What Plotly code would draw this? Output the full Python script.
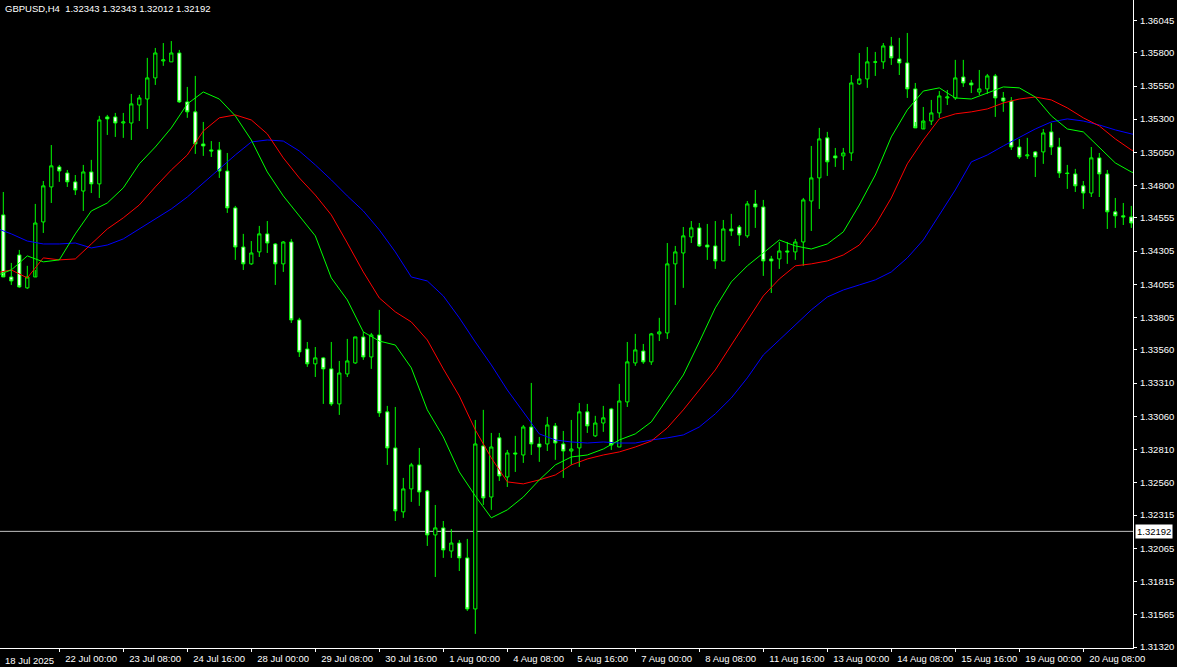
import plotly.graph_objects as go

# ---------------- data (GBPUSD H4) ----------------
bar_index = list(range(142))

opens = [1.34578, 1.34110, 1.34276, 1.34028, 1.34110, 1.34525, 1.34789, 1.34940, 1.34894, 1.34827,
         1.34758, 1.34902, 1.34812, 1.35317, 1.35317, 1.35271, 1.35271, 1.35407, 1.35452, 1.35611,
         1.35739, 1.35732, 1.35799, 1.35430, 1.35355, 1.35113, 1.35068, 1.35068, 1.34909, 1.34631,
         1.34336, 1.34209, 1.34299, 1.34435, 1.34359, 1.34209, 1.34374, 1.33786, 1.33567, 1.33455,
         1.33500, 1.33417, 1.33153, 1.33379, 1.33462, 1.33658, 1.33507, 1.33673, 1.33093, 1.32821,
         1.32339, 1.32512, 1.32693, 1.32496, 1.32165, 1.32218, 1.32044, 1.32104, 1.31992, 1.31607,
         1.32836, 1.32451, 1.32897, 1.32602, 1.32783, 1.32768, 1.32979, 1.32851, 1.32851, 1.32987,
         1.32851, 1.32798, 1.32821, 1.33093, 1.32912, 1.33009, 1.33115, 1.32828, 1.33168, 1.33462,
         1.33552, 1.33470, 1.33681, 1.33688, 1.34209, 1.34291, 1.34412, 1.34480, 1.34351, 1.34344,
         1.34231, 1.34472, 1.34487, 1.34420, 1.34661, 1.34638, 1.34246, 1.34246, 1.34306, 1.34299,
         1.34374, 1.34683, 1.34857, 1.35159, 1.35023, 1.35023, 1.35045, 1.35566, 1.35603, 1.35732,
         1.35732, 1.35852, 1.35754, 1.35724, 1.35528, 1.35226, 1.35286, 1.35347, 1.35460, 1.35460,
         1.35618, 1.35573, 1.35505, 1.35528, 1.35626, 1.35460, 1.35437, 1.35090, 1.35023, 1.35053,
         1.35053, 1.35204, 1.35090, 1.34894, 1.34887, 1.34797, 1.34743, 1.35008, 1.34887, 1.34601,
         1.34571, 1.34563]

highs = [1.34751, 1.34216, 1.34314, 1.34194, 1.34661, 1.34834, 1.35105, 1.34955, 1.34917, 1.34879,
         1.34955, 1.34993, 1.35325, 1.35332, 1.35347, 1.35347, 1.35490, 1.35482, 1.35762, 1.35837,
         1.35874, 1.35889, 1.35822, 1.35543, 1.35626, 1.35279, 1.35135, 1.35128, 1.35045, 1.34646,
         1.34435, 1.34381, 1.34495, 1.34532, 1.34366, 1.34381, 1.34397, 1.33802, 1.33620, 1.33582,
         1.33507, 1.33620, 1.33477, 1.33643, 1.33658, 1.33696, 1.33688, 1.33862, 1.33138, 1.33130,
         1.32595, 1.32708, 1.32821, 1.32504, 1.32391, 1.32270, 1.32210, 1.32127, 1.32135, 1.33032,
         1.33108, 1.32934, 1.32934, 1.32806, 1.32912, 1.32994, 1.33311, 1.32904, 1.33055, 1.33009,
         1.32949, 1.33032, 1.33160, 1.33153, 1.33063, 1.33138, 1.33123, 1.33304, 1.33620, 1.33681,
         1.33605, 1.33688, 1.33802, 1.34366, 1.34344, 1.34487, 1.34532, 1.34517, 1.34510, 1.34532,
         1.34540, 1.34586, 1.34502, 1.34683, 1.34766, 1.34691, 1.34269, 1.34374, 1.34374, 1.34397,
         1.34706, 1.35098, 1.35234, 1.35204, 1.35083, 1.35083, 1.35633, 1.35799, 1.35844, 1.35807,
         1.35874, 1.35920, 1.35913, 1.35950, 1.35573, 1.35392, 1.35445, 1.35512, 1.35520, 1.35747,
         1.35747, 1.35596, 1.35671, 1.35641, 1.35641, 1.35505, 1.35467, 1.35151, 1.35159, 1.35060,
         1.35226, 1.35271, 1.35159, 1.34955, 1.34925, 1.34834, 1.35090, 1.35045, 1.34917, 1.34706,
         1.34668, 1.34646]

lows = [1.34148, 1.34050, 1.34028, 1.34020, 1.34163, 1.34442, 1.34668, 1.34827, 1.34789, 1.34728,
        1.34608, 1.34743, 1.34706, 1.35181, 1.35166, 1.35159, 1.35143, 1.35286, 1.35226, 1.35558,
        1.35702, 1.35732, 1.35422, 1.35310, 1.35038, 1.35023, 1.35015, 1.34857, 1.34593, 1.34239,
        1.34163, 1.34201, 1.34261, 1.34291, 1.34050, 1.34148, 1.33763, 1.33507, 1.33432, 1.33356,
        1.33153, 1.33138, 1.33070, 1.33356, 1.33455, 1.33485, 1.33417, 1.33055, 1.32693, 1.32270,
        1.32294, 1.32414, 1.32384, 1.32082, 1.31848, 1.31992, 1.31992, 1.31893, 1.31592, 1.31419,
        1.32391, 1.32354, 1.32572, 1.32527, 1.32640, 1.32708, 1.32768, 1.32716, 1.32798, 1.32731,
        1.32595, 1.32693, 1.32678, 1.32934, 1.32904, 1.32942, 1.32806, 1.32828, 1.33130, 1.33440,
        1.33455, 1.33447, 1.33627, 1.33643, 1.33899, 1.34028, 1.34366, 1.34336, 1.34239, 1.34171,
        1.34231, 1.34420, 1.34344, 1.34405, 1.34480, 1.34118, 1.33989, 1.34171, 1.34209, 1.34239,
        1.34194, 1.34457, 1.34623, 1.34872, 1.34940, 1.34917, 1.34985, 1.35558, 1.35536, 1.35626,
        1.35679, 1.35709, 1.35633, 1.35460, 1.35279, 1.35279, 1.35256, 1.35310, 1.35407, 1.35445,
        1.35543, 1.35497, 1.35482, 1.35490, 1.35317, 1.35355, 1.35068, 1.35000, 1.35000, 1.34864,
        1.34963, 1.35030, 1.34857, 1.34774, 1.34751, 1.34623, 1.34713, 1.34713, 1.34472, 1.34480,
        1.34502, 1.34480]

closes = [1.34110, 1.34080, 1.34035, 1.34110, 1.34517, 1.34797, 1.34948, 1.34909, 1.34827, 1.34766,
          1.34902, 1.34812, 1.35294, 1.35302, 1.35271, 1.35279, 1.35415, 1.35460, 1.35611, 1.35799,
          1.35747, 1.35799, 1.35430, 1.35355, 1.35113, 1.35098, 1.35060, 1.34909, 1.34631, 1.34336,
          1.34209, 1.34291, 1.34435, 1.34366, 1.34209, 1.34374, 1.33786, 1.33545, 1.33455, 1.33500,
          1.33417, 1.33153, 1.33386, 1.33477, 1.33658, 1.33507, 1.33673, 1.33085, 1.32821, 1.32346,
          1.32512, 1.32693, 1.32489, 1.32165, 1.32218, 1.32052, 1.32104, 1.31992, 1.31607, 1.32851,
          1.32444, 1.32828, 1.32610, 1.32783, 1.32776, 1.32979, 1.32851, 1.32828, 1.32994, 1.32858,
          1.32798, 1.32813, 1.33093, 1.32987, 1.33009, 1.33048, 1.32843, 1.33175, 1.33470, 1.33560,
          1.33470, 1.33681, 1.33696, 1.34209, 1.34299, 1.34420, 1.34480, 1.34344, 1.34336, 1.34231,
          1.34472, 1.34457, 1.34427, 1.34661, 1.34638, 1.34231, 1.34231, 1.34306, 1.34299, 1.34374,
          1.34691, 1.34857, 1.35151, 1.34978, 1.35008, 1.35045, 1.35573, 1.35603, 1.35732, 1.35730,
          1.35852, 1.35762, 1.35724, 1.35528, 1.35234, 1.35286, 1.35347, 1.35475, 1.35467, 1.35611,
          1.35573, 1.35558, 1.35528, 1.35626, 1.35460, 1.35437, 1.35090, 1.35015, 1.35030, 1.35015,
          1.35196, 1.35090, 1.34894, 1.34890, 1.34797, 1.34743, 1.35008, 1.34887, 1.34601, 1.34571,
          1.34563, 1.34517]

# Alligator lines sampled every second bar (bar index -1, 1, 3, ... 143)
line_index = list(range(-1, 144, 2))

jaw_blue = [1.34480, 1.34435, 1.34381, 1.34359, 1.34359, 1.34366, 1.34329, 1.34351, 1.34397, 1.34472,
            1.34548, 1.34623, 1.34713, 1.34819, 1.34925, 1.35030, 1.35128, 1.35143, 1.35135, 1.35060,
            1.34955, 1.34842, 1.34721, 1.34608, 1.34465, 1.34299, 1.34110, 1.34080, 1.33967, 1.33802,
            1.33620, 1.33447, 1.33258, 1.33093, 1.32927, 1.32881, 1.32866, 1.32858, 1.32866, 1.32858,
            1.32858, 1.32881, 1.32897, 1.32919, 1.32979, 1.33078, 1.33198, 1.33349, 1.33522, 1.33635,
            1.33748, 1.33862, 1.33959, 1.34012, 1.34050, 1.34088, 1.34148, 1.34254, 1.34389, 1.34578,
            1.34766, 1.34978, 1.35030, 1.35098, 1.35159, 1.35226, 1.35279, 1.35302, 1.35286, 1.35256,
            1.35219, 1.35189, 1.35166]

teeth_red = [1.34140, 1.34163, 1.34103, 1.34254, 1.34239, 1.34246, 1.34359, 1.34472, 1.34556, 1.34653,
             1.34789, 1.34917, 1.35030, 1.35211, 1.35310, 1.35332, 1.35294, 1.35189, 1.35008, 1.34857,
             1.34728, 1.34578, 1.34366, 1.34148, 1.33952, 1.33847, 1.33771, 1.33635, 1.33417, 1.33213,
             1.32957, 1.32746, 1.32565, 1.32550, 1.32580, 1.32617, 1.32693, 1.32738, 1.32768, 1.32791,
             1.32828, 1.32873, 1.32972, 1.33108, 1.33258, 1.33409, 1.33597, 1.33786, 1.33967, 1.34095,
             1.34194, 1.34209, 1.34231, 1.34276, 1.34351, 1.34502, 1.34706, 1.34963, 1.35143, 1.35302,
             1.35340, 1.35355, 1.35377, 1.35422, 1.35452, 1.35467, 1.35445, 1.35385, 1.35310, 1.35249,
             1.35151, 1.35068, 1.35023]

lips_green = [1.34118, 1.34163, 1.34269, 1.34224, 1.34239, 1.34435, 1.34608, 1.34668, 1.34782, 1.34963,
              1.35090, 1.35234, 1.35415, 1.35505, 1.35452, 1.35325, 1.35143, 1.34902, 1.34721, 1.34571,
              1.34420, 1.34103, 1.33937, 1.33696, 1.33627, 1.33597, 1.33425, 1.33108, 1.32904, 1.32640,
              1.32459, 1.32294, 1.32354, 1.32451, 1.32580, 1.32693, 1.32753, 1.32768, 1.32813, 1.32881,
              1.32927, 1.33017, 1.33198, 1.33371, 1.33620, 1.33877, 1.34073, 1.34194, 1.34291, 1.34389,
              1.34344, 1.34321, 1.34359, 1.34450, 1.34653, 1.34879, 1.35166, 1.35370, 1.35512, 1.35536,
              1.35460, 1.35452, 1.35497, 1.35543, 1.35536, 1.35467, 1.35325, 1.35226, 1.35204, 1.35083,
              1.34970, 1.34902, 1.34857]

date_tick_index = [7, 15, 23, 31, 39, 47, 55, 63, 71, 79, 87, 95, 103, 111, 119, 127, 135]
date_tick_labels = ["22 Jul 00:00", "23 Jul 08:00", "24 Jul 16:00", "28 Jul 00:00", "29 Jul 08:00",
                    "30 Jul 16:00", "1 Aug 00:00", "4 Aug 08:00", "5 Aug 16:00", "7 Aug 00:00",
                    "8 Aug 08:00", "11 Aug 16:00", "13 Aug 00:00", "14 Aug 08:00", "15 Aug 16:00",
                    "19 Aug 00:00", "20 Aug 08:00"]
first_date_label = "18 Jul 2025"

price_tick_values = [1.36045, 1.35800, 1.35550, 1.35300, 1.35050, 1.34800, 1.34555, 1.34305, 1.34055,
                     1.33805, 1.33560, 1.33310, 1.33060, 1.32810, 1.32560, 1.32315, 1.32065, 1.31815,
                     1.31565, 1.31320]
price_tick_labels = ["%.5f" % v for v in price_tick_values]

bid_price = 1.32192
header_text = "GBPUSD,H4  1.32343 1.32343 1.32012 1.32192"

# ---------------- figure ----------------
FONT = "Liberation Sans, Arial, sans-serif"
fig = go.Figure()

fig.add_trace(go.Candlestick(
    x=bar_index, open=opens, high=highs, low=lows, close=closes,
    increasing=dict(line=dict(color="#00FF00", width=1), fillcolor="#000000"),
    decreasing=dict(line=dict(color="#00FF00", width=1), fillcolor="#FFFFFF"),
    whiskerwidth=0, showlegend=False, hoverinfo="skip"))

for vals, col in ((jaw_blue, "#0000FF"), (teeth_red, "#FF0000"), (lips_green, "#00FF00")):
    fig.add_trace(go.Scatter(x=line_index, y=vals, mode="lines",
                             line=dict(color=col, width=1), showlegend=False, hoverinfo="skip"))

fig.add_shape(type="line", xref="paper", x0=0, x1=1, yref="y", y0=bid_price, y1=bid_price,
              line=dict(color="#C0C0C0", width=1), layer="below")

fig.add_annotation(xref="paper", yref="paper", x=0.0, y=1.0, xanchor="left", yanchor="top",
                   xshift=3, yshift=-1, text=header_text, showarrow=False,
                   font=dict(family=FONT, size=9.5, color="#FFFFFF"))

fig.add_annotation(xref="paper", yref="paper", x=0.0, y=0.0, xanchor="left", yanchor="top",
                   xshift=3, yshift=-5, text=first_date_label, showarrow=False,
                   font=dict(family=FONT, size=9.5, color="#FFFFFF"))

fig.add_annotation(xref="paper", yref="y", x=1.0, y=bid_price, xanchor="left", yanchor="middle",
                   xshift=2, text=f"{bid_price:.5f}", showarrow=False, bgcolor="#FFFFFF",
                   borderpad=1, font=dict(family=FONT, size=9.5, color="#000000"))

fig.update_layout(
    width=1177, height=667, autosize=False,
    paper_bgcolor="#000000", plot_bgcolor="#000000",
    margin=dict(l=0, r=44, t=0, b=19, pad=0, autoexpand=False),
    showlegend=False,
    boxgap=0.42,
    xaxis=dict(range=[-0.4125, 141.2125], showgrid=False, zeroline=False,
               showline=True, linecolor="#FFFFFF", linewidth=1,
               ticks="outside", ticklen=3, tickcolor="#FFFFFF", tickwidth=1,
               tickmode="array", tickvals=date_tick_index, ticktext=date_tick_labels,
               ticklabelposition="outside right", tickangle=0, automargin=False,
               ticklabelshift=5, ticklabelstandoff=2,
               tickfont=dict(family=FONT, size=9.5, color="#FFFFFF"),
               rangeslider=dict(visible=False), fixedrange=True),
    yaxis=dict(range=[1.313125, 1.361985], side="right", showgrid=False, zeroline=False,
               showline=True, linecolor="#FFFFFF", linewidth=1,
               ticks="outside", ticklen=3, tickcolor="#FFFFFF", tickwidth=1,
               tickmode="array", tickvals=price_tick_values, ticktext=price_tick_labels,
               automargin=False, ticklabelstandoff=1,
               tickfont=dict(family=FONT, size=9.5, color="#FFFFFF"), fixedrange=True),
)

fig.write_html("out.html", config={"displayModeBar": False},
               post_script="document.body.style.margin='0px';document.body.style.background='#000';")
